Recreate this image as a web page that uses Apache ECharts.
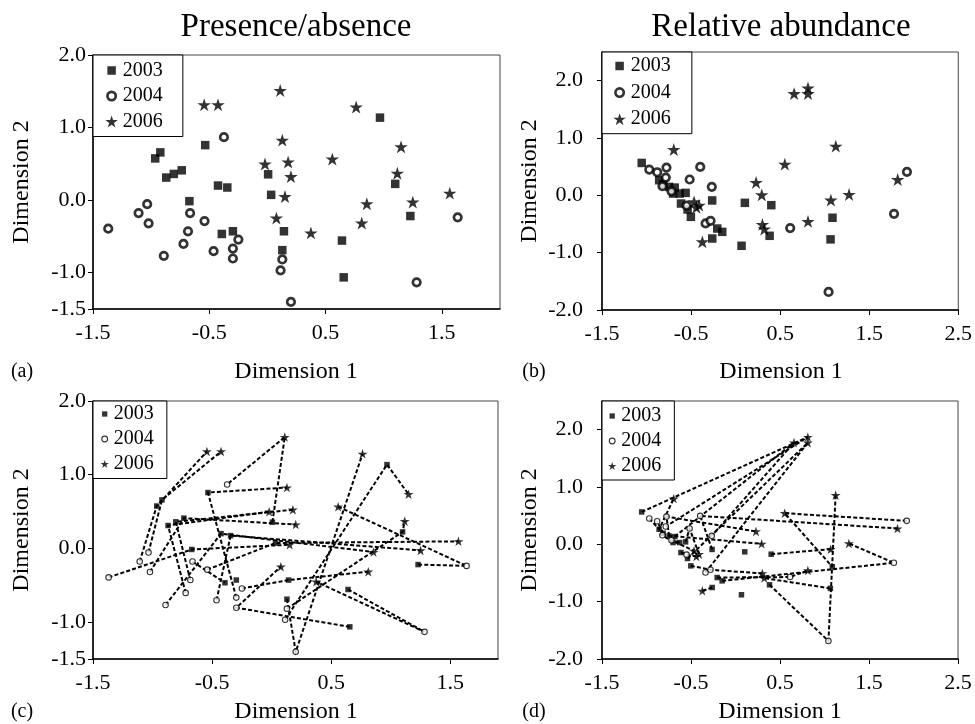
<!DOCTYPE html>
<html><head><meta charset="utf-8">
<script src="https://cdn.jsdelivr.net/npm/echarts@6/dist/echarts.min.js"></script>
<style>html,body{margin:0;padding:0;background:#fff}#c{width:975px;height:724px}</style>
</head><body><div id="c"></div>
<script>
// ---------- Presence/absence (panels a, c) ----------
const paX2003 = [-0.965,-0.921,-0.870,-0.805,-0.737,-0.535,-0.425,-0.345,-0.671,-0.392,-0.297,0.006,0.032,0.142,0.128,0.968,1.099,1.229,0.641,0.656];
const paY2003 = [0.575,0.658,0.311,0.361,0.411,0.758,0.201,0.174,-0.014,-0.466,-0.429,0.356,0.073,-0.429,-0.689,1.137,0.224,-0.219,-0.557,-1.064];
const paX2004 = [-1.369,-1.108,-1.034,-1.022,-0.891,-0.722,-0.683,-0.665,-0.541,-0.463,-0.374,-0.297,-0.297,-0.250,0.128,0.113,0.202,1.283,1.636];
const paY2004 = [-0.393,-0.178,-0.055,-0.320,-0.767,-0.603,-0.429,-0.178,-0.288,-0.703,0.868,-0.667,-0.804,-0.543,-0.817,-0.968,-1.402,-1.132,-0.237];
const paX2006 = [-0.544,-0.425,0.110,0.128,-0.021,0.178,0.202,0.151,0.077,0.374,0.558,0.763,1.149,1.117,0.855,0.811,1.250,1.568];
const paY2006 = [1.315,1.315,1.511,0.826,0.498,0.525,0.324,0.050,-0.247,-0.452,0.566,1.283,0.735,0.370,-0.050,-0.315,-0.027,0.096];
// site trajectories (Q = 2003, C = 2004, S = 2006, 1-based)
const trajPA = [
  ['C2','Q1','S1'],['C3','Q2','S2'],['Q12','S3','C11'],['C12','Q6','S4'],['C4','Q5','S7'],
  ['C6','Q3','S5'],['C7','Q4','S6'],['Q18','C19','S11'],['Q19','C18','S10'],['C16','Q16','S13'],
  ['C9','Q13','S18'],['Q20','C13','S9'],['C15','Q17','S14'],['Q15','C17','S12'],['C14','Q14','S16'],
  ['C5','Q7','S15'],['C10','Q8','S17'],['C1','Q9','S8'],['C8','Q10']
];

// ---------- Relative abundance (panels b, d) ----------
const raX2003 = [-1.054,-0.858,-0.813,-0.746,-0.683,-0.702,-0.628,-0.561,-0.613,-0.539,-0.502,-0.263,-0.262,-0.206,-0.150,0.104,0.401,0.382,0.067,1.088,1.066];
const raY2003 = [0.565,0.263,0.193,0.147,0.135,0.031,0.031,0.043,-0.143,-0.247,-0.375,-0.089,-0.753,-0.579,-0.637,-0.131,-0.172,-0.706,-0.880,-0.391,-0.768];
const raX2004 = [-0.969,-0.880,-0.776,-0.784,-0.821,-0.720,-0.397,-0.516,-0.267,-0.550,-0.337,-0.281,0.613,1.044,1.779,1.924];
const raY2004 = [0.450,0.403,0.484,0.310,0.159,0.070,0.496,0.276,0.148,-0.180,-0.490,-0.444,-0.571,-1.685,-0.322,0.410];
const raX2006 = [0.657,0.813,0.813,1.125,0.553,0.230,0.294,-0.694,-0.466,-0.410,-0.440,-0.373,0.301,0.323,0.813,1.070,1.274,1.820];
const raY2006 = [1.774,1.872,1.774,0.857,0.543,0.224,0.009,0.799,-0.114,-0.172,-0.210,-0.811,-0.507,-0.589,-0.455,-0.084,0.015,0.276];
const trajRA = [
  ['Q1','S2','C4'],['Q5','S1','C9'],['Q10','S3','C11'],['C1','Q2','S8'],['Q3','C2'],
  ['Q4','C3','S6'],['Q6','C5','S7'],['Q7','C6','S9'],['Q8','C8','S10'],['Q9','C10','S11'],
  ['Q11','C12','S13'],['Q12','C7','S18'],['Q13','S12'],['Q14','C13','S15'],['Q15','C15','S17'],
  ['C16','S5','Q20'],['Q17','S16'],['Q18','C14','S4'],['Q21','S14']
];

// ---------- axis ticks ----------
const paXTicks = [-1.5,-0.5,0.5,1.5];
const paYTicks = [-1.5,-1.0,0.0,1.0,2.0];
const raXTicks = [-1.5,-0.5,0.5,1.5,2.5];
const raYTicks = [-2.0,-1.0,0.0,1.0,2.0];
const years = ['2003','2004','2006'];

const FONT = '"Liberation Serif","Times New Roman",serif';
const STAR = 'path://M50,0L61.2,34.5L97.6,34.5L68.2,55.9L79.4,90.5L50,69.1L20.6,90.5L31.8,55.9L2.4,34.5L38.8,34.5Z';

function pts(xs, ys){ return xs.map((x,i)=>[x, ys[i]]); }
function resolver(q, c, s){
  const m = {Q:q, C:c, S:s};
  return ref => { const a = m[ref[0]]; const i = parseInt(ref.slice(1),10)-1; return [a[0][i], a[1][i]]; };
}
const refPA = resolver([paX2003,paY2003],[paX2004,paY2004],[paX2006,paY2006]);
const refRA = resolver([raX2003,raY2003],[raX2004,raY2004],[raX2006,raY2006]);

const panels = [
  {grid:{left:93, top:55, width:407, height:254}, xr:[-1.5,2.0], yr:[-1.5,2.0], xt:paXTicks, yt:paYTicks, ym:7, big:true,
   d:[[paX2003,paY2003],[paX2004,paY2004],[paX2006,paY2006]], traj:null},
  {grid:{left:602, top:52, width:359, height:258}, xr:[-1.5,2.5], yr:[-2.0,2.5], xt:raXTicks, yt:raYTicks, ym:19, big:true,
   d:[[raX2003,raY2003],[raX2004,raY2004],[raX2006,raY2006]], traj:null},
  {grid:{left:93, top:401, width:405, height:258}, xr:[-1.5,1.9], yr:[-1.5,2.0], xt:paXTicks, yt:paYTicks, ym:7, big:false,
   d:[[paX2003,paY2003],[paX2004,paY2004],[paX2006,paY2006]], traj:trajPA.map(t=>t.map(refPA))},
  {grid:{left:602, top:401, width:356, height:258}, xr:[-1.5,2.5], yr:[-2.0,2.5], xt:raXTicks, yt:raYTicks, ym:19, big:false,
   d:[[raX2003,raY2003],[raX2004,raY2004],[raX2006,raY2006]], traj:trajRA.map(t=>t.map(refRA))}
];

const grid=[], xAxis=[], yAxis=[], series=[], legend=[];
const fmt = v => Number(v).toFixed(1);
panels.forEach((p, i) => {
  grid.push(Object.assign({show:true, borderColor:'#444', borderWidth:1, backgroundColor:'transparent', containLabel:false}, p.grid));
  const axisCommon = (ticks, margin) => ({
    axisLine:{show:true, onZero:false, lineStyle:{color:'#000', width:1.5}},
    axisTick:{show:true, inside:false, length:5, customValues:ticks, lineStyle:{color:'#000', width:1}},
    axisLabel:{customValues:ticks, formatter:fmt, fontFamily:FONT, fontSize:22, color:'#000', margin:margin, showMinLabel:true, showMaxLabel:true},
    splitLine:{show:false}
  });
  xAxis.push(Object.assign({gridIndex:i, type:'value', min:p.xr[0], max:p.xr[1]}, axisCommon(p.xt, 13)));
  yAxis.push(Object.assign({gridIndex:i, type:'value', min:p.yr[0], max:p.yr[1]}, axisCommon(p.yt, p.ym)));

  if (p.traj) {
    series.push({type:'lines', coordinateSystem:'cartesian2d', xAxisIndex:i, yAxisIndex:i, polyline:true, silent:true, z:1,
      lineStyle:{color:'#000', width:2, type:[4,2.2], opacity:1},
      data:p.traj.map(c=>({coords:c}))});
  }
  const big = p.big;
  series.push({type:'scatter', name:'2003', xAxisIndex:i, yAxisIndex:i, z:3, symbol:'rect', symbolSize: big?8.5:5.5,
    itemStyle:{color:'#000'}, data:pts(p.d[0][0], p.d[0][1])});
  series.push({type:'scatter', name:'2004', xAxisIndex:i, yAxisIndex:i, z:4, symbol:'circle', symbolSize: big?7.5:5.5,
    itemStyle:{color:'#fff', borderColor:'#000', borderWidth: big?2.7:1.1}, data:pts(p.d[1][0], p.d[1][1])});
  series.push({type:'scatter', name:'2006', xAxisIndex:i, yAxisIndex:i, z:5, symbol:STAR, symbolKeepAspect:true, symbolSize: big?13.5:10,
    itemStyle:{color:'#000'}, data:pts(p.d[2][0], p.d[2][1])});
});

const iconsBig = [
  {name:'2003', icon:'path://M0,0M2,2L10.5,2L10.5,10.5L2,10.5ZM12.5,12.5', itemStyle:{color:'#000', borderWidth:0}},
  {name:'2004', icon:'path://M0,0M12,12M10,6A4,4,0,1,1,2,6A4,4,0,1,1,10,6Z', itemStyle:{color:'#fff', borderColor:'#000', borderWidth:2.7}},
  {name:'2006', icon:STAR, itemStyle:{color:'#000', borderWidth:0}}
];
const iconsSmall = [
  {name:'2003', icon:'path://M0,0M1.5,1.5L6.8,1.5L6.8,6.8L1.5,6.8ZM8.3,8.3', itemStyle:{color:'#000', borderWidth:0}},
  {name:'2004', icon:'path://M0,0M8,8M6.8,4A2.8,2.8,0,1,1,1.2,4A2.8,2.8,0,1,1,6.8,4Z', itemStyle:{color:'#fff', borderColor:'#000', borderWidth:1.1}},
  {name:'2006', icon:STAR, itemStyle:{color:'#000', borderWidth:0}}
];
const legCommon = {orient:'vertical', selectedMode:false, borderColor:'#000', borderWidth:1, backgroundColor:'#fff',
  textStyle:{fontFamily:FONT, fontSize:20, color:'#000', lineHeight:20}, z:10};
legend.push(Object.assign({}, legCommon, {left:93, top:55, padding:[5.5,20,5,11], itemGap:5.5, itemWidth:12.5, itemHeight:12.5, data:iconsBig}));
legend.push(Object.assign({}, legCommon, {left:602, top:52, padding:[4,21,4.5,10], itemGap:6.6, itemWidth:12.5, itemHeight:12.5, data:iconsBig}));
legend.push(Object.assign({}, legCommon, {left:93, top:401, padding:[3,13,4.5,7], itemGap:5, itemWidth:8.3, itemHeight:8.3, data:iconsSmall}));
legend.push(Object.assign({}, legCommon, {left:602, top:401, padding:[5,13,4,5.5], itemGap:5, itemWidth:8.3, itemHeight:8.3, data:iconsSmall}));

function txt(text, x, y, size, rot){
  return {type:'text', x:x, y:y, rotation:rot||0, silent:true,
    style:{text:text, font:size+'px '+FONT, fill:'#000', align:'center', verticalAlign:'middle', textAlign:'center', textVerticalAlign:'middle'}};
}
const graphic = [
  txt('Presence/absence', 296, 27, 33),
  txt('Relative abundance', 781, 27, 33),
  txt('Dimension 1', 296, 372, 24), txt('Dimension 1', 781, 372, 24),
  txt('Dimension 1', 296, 712, 24), txt('Dimension 1', 780, 712, 24),
  txt('Dimension 2', 22, 182, 24, Math.PI/2), txt('Dimension 2', 530, 181, 24, Math.PI/2),
  txt('Dimension 2', 22, 530, 24, Math.PI/2), txt('Dimension 2', 530, 530, 24, Math.PI/2),
  txt('(a)', 22, 372, 20), txt('(b)', 534, 372, 20), txt('(c)', 22, 712, 20), txt('(d)', 534, 712, 20)
];

const chart = echarts.init(document.getElementById('c'), null, {renderer:'canvas'});
chart.setOption({animation:false, backgroundColor:'#fff', grid, xAxis, yAxis, series, legend, graphic});
</script>
</body></html>
